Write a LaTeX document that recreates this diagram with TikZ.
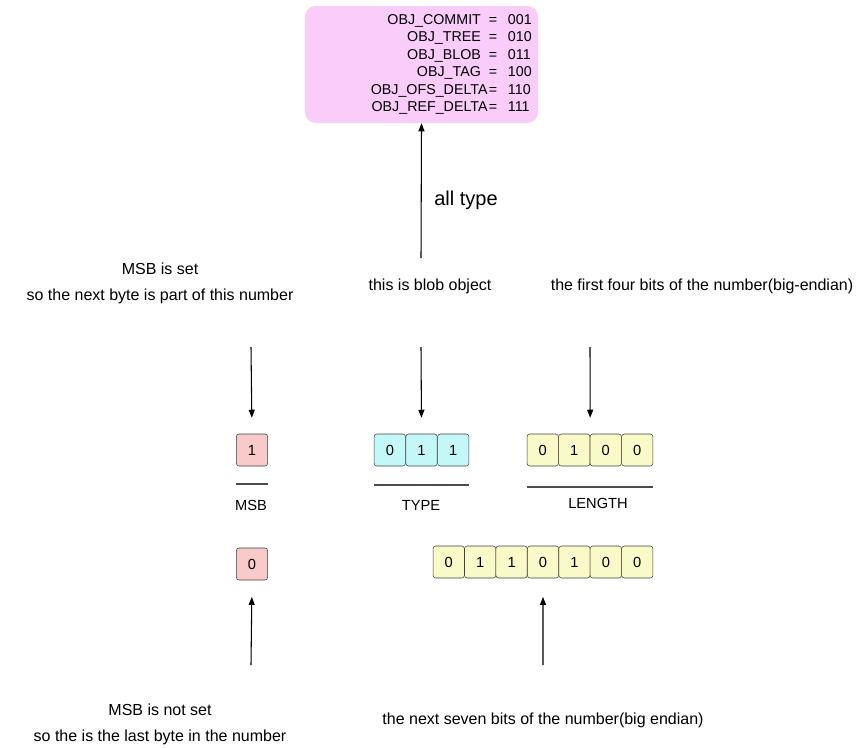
\documentclass[tikz,border=0pt]{standalone}
\usepackage{fontspec}
\setmainfont{Liberation Sans}
\usetikzlibrary{arrows.meta,positioning}
\definecolor{typepink}{RGB}{250,204,250}
\definecolor{msbred}{RGB}{248,202,202}
\definecolor{typecyan}{RGB}{196,248,248}
\definecolor{lenyellow}{RGB}{250,249,200}

\begin{document}
\begin{tikzpicture}[x=0.75pt,y=-0.75pt,font=\fontsize{11}{13}\selectfont,
  bit/.style={draw=black!75,rounded corners=2pt,minimum width=23.5pt,minimum height=24pt,inner sep=0pt},
  msbbit/.style={bit,fill=msbred},
  typebit/.style={bit,fill=typecyan},
  lenbit/.style={bit,fill=lenyellow},
  note/.style={align=center,font=\fontsize{12}{19.5}\selectfont},
  arr/.style={line width=0.8pt,-{Triangle[length=6pt,width=4.5pt]}},
  rule/.style={draw=black!70,line width=0.8pt}]
\useasboundingbox (0,0) rectangle (862,747);

% object types
\node[fill=typepink,rounded corners=8pt,minimum width=174.75pt,minimum height=87.75pt] (types) at (421.5,64.5) {};
\node[anchor=east,inner sep=0pt,font=\fontsize{10.7}{13.1}\selectfont] at (532,64.5) {%
  \begin{tabular}{@{}r@{\hspace{6pt}}c@{\hspace{8pt}}l@{}}
  OBJ\_COMMIT & = & 001\\
  OBJ\_TREE & = & 010\\
  OBJ\_BLOB & = & 011\\
  OBJ\_TAG & = & 100\\
  OBJ\_OFS\_DELTA\hspace{-5pt} & = & 110\\
  OBJ\_REF\_DELTA\hspace{-5pt} & = & 111
  \end{tabular}};
\coordinate (typefoot) at (421,258);
\draw[arr] (typefoot) -- (types.south);
\node[font=\fontsize{15}{17}\selectfont] (alltype) at (466,200) {all type};

% notes above
\node[note] (setnote) at (160,283) {MSB is set\\so the next byte is part of this number};
\node[note] (blobnote) at (430,286) {this is blob object};
\node[note] (fournote) at (702,286) {the first four bits of the number(big-endian)};

% first byte
\node[msbbit] (m1) at (252,450) {1};
\foreach \b [count=\i] in {0,1,1}
  \node[typebit] (t\i) at ({374+31.7*(\i-0.5)},450) {\b};
\foreach \b [count=\i] in {0,1,0,0}
  \node[lenbit] (l\i) at ({527+31.5*(\i-0.5)},450) {\b};

\coordinate (msbtop) at (251,347);
\coordinate (typetop) at (421,347);
\coordinate (lentop) at (590,347);
\draw[arr,shorten >=12pt] (msbtop) -- (m1.north);
\draw[arr,shorten >=12pt] (typetop) -- (t2.north);
\draw[arr,shorten >=12pt] (lentop) -- (l2.north east);

\draw[rule] (236,484) -- (268,484);
\draw[rule] (374,485) -- (469,485);
\draw[rule] (527,487) -- (653,487);
\node (msblabel) at (251,505) {MSB};
\node (typelabel) at (421,505) {TYPE};
\node (lenlabel) at (598,503) {LENGTH};

% second byte
\node[msbbit] (m2) at (252,564) {0};
\foreach \b [count=\i] in {0,1,1,0,1,0,0}
  \node[lenbit] (s\i) at ({433+31.43*(\i-0.5)},562) {\b};

\coordinate (msbfoot) at (251,665);
\coordinate (sevenfoot) at (543,665);
\draw[arr,shorten >=12.5pt] (msbfoot) -- (m2.south);
\draw[arr,shorten >=14pt] (sevenfoot) -- (s4.south);

% notes below
\node[note] (notsetnote) at (160,724.5) {MSB is not set\\so the is the last byte in the number};
\node[note] (sevennote) at (543,720) {the next seven bits of the number(big endian)};
\end{tikzpicture}
\end{document}
